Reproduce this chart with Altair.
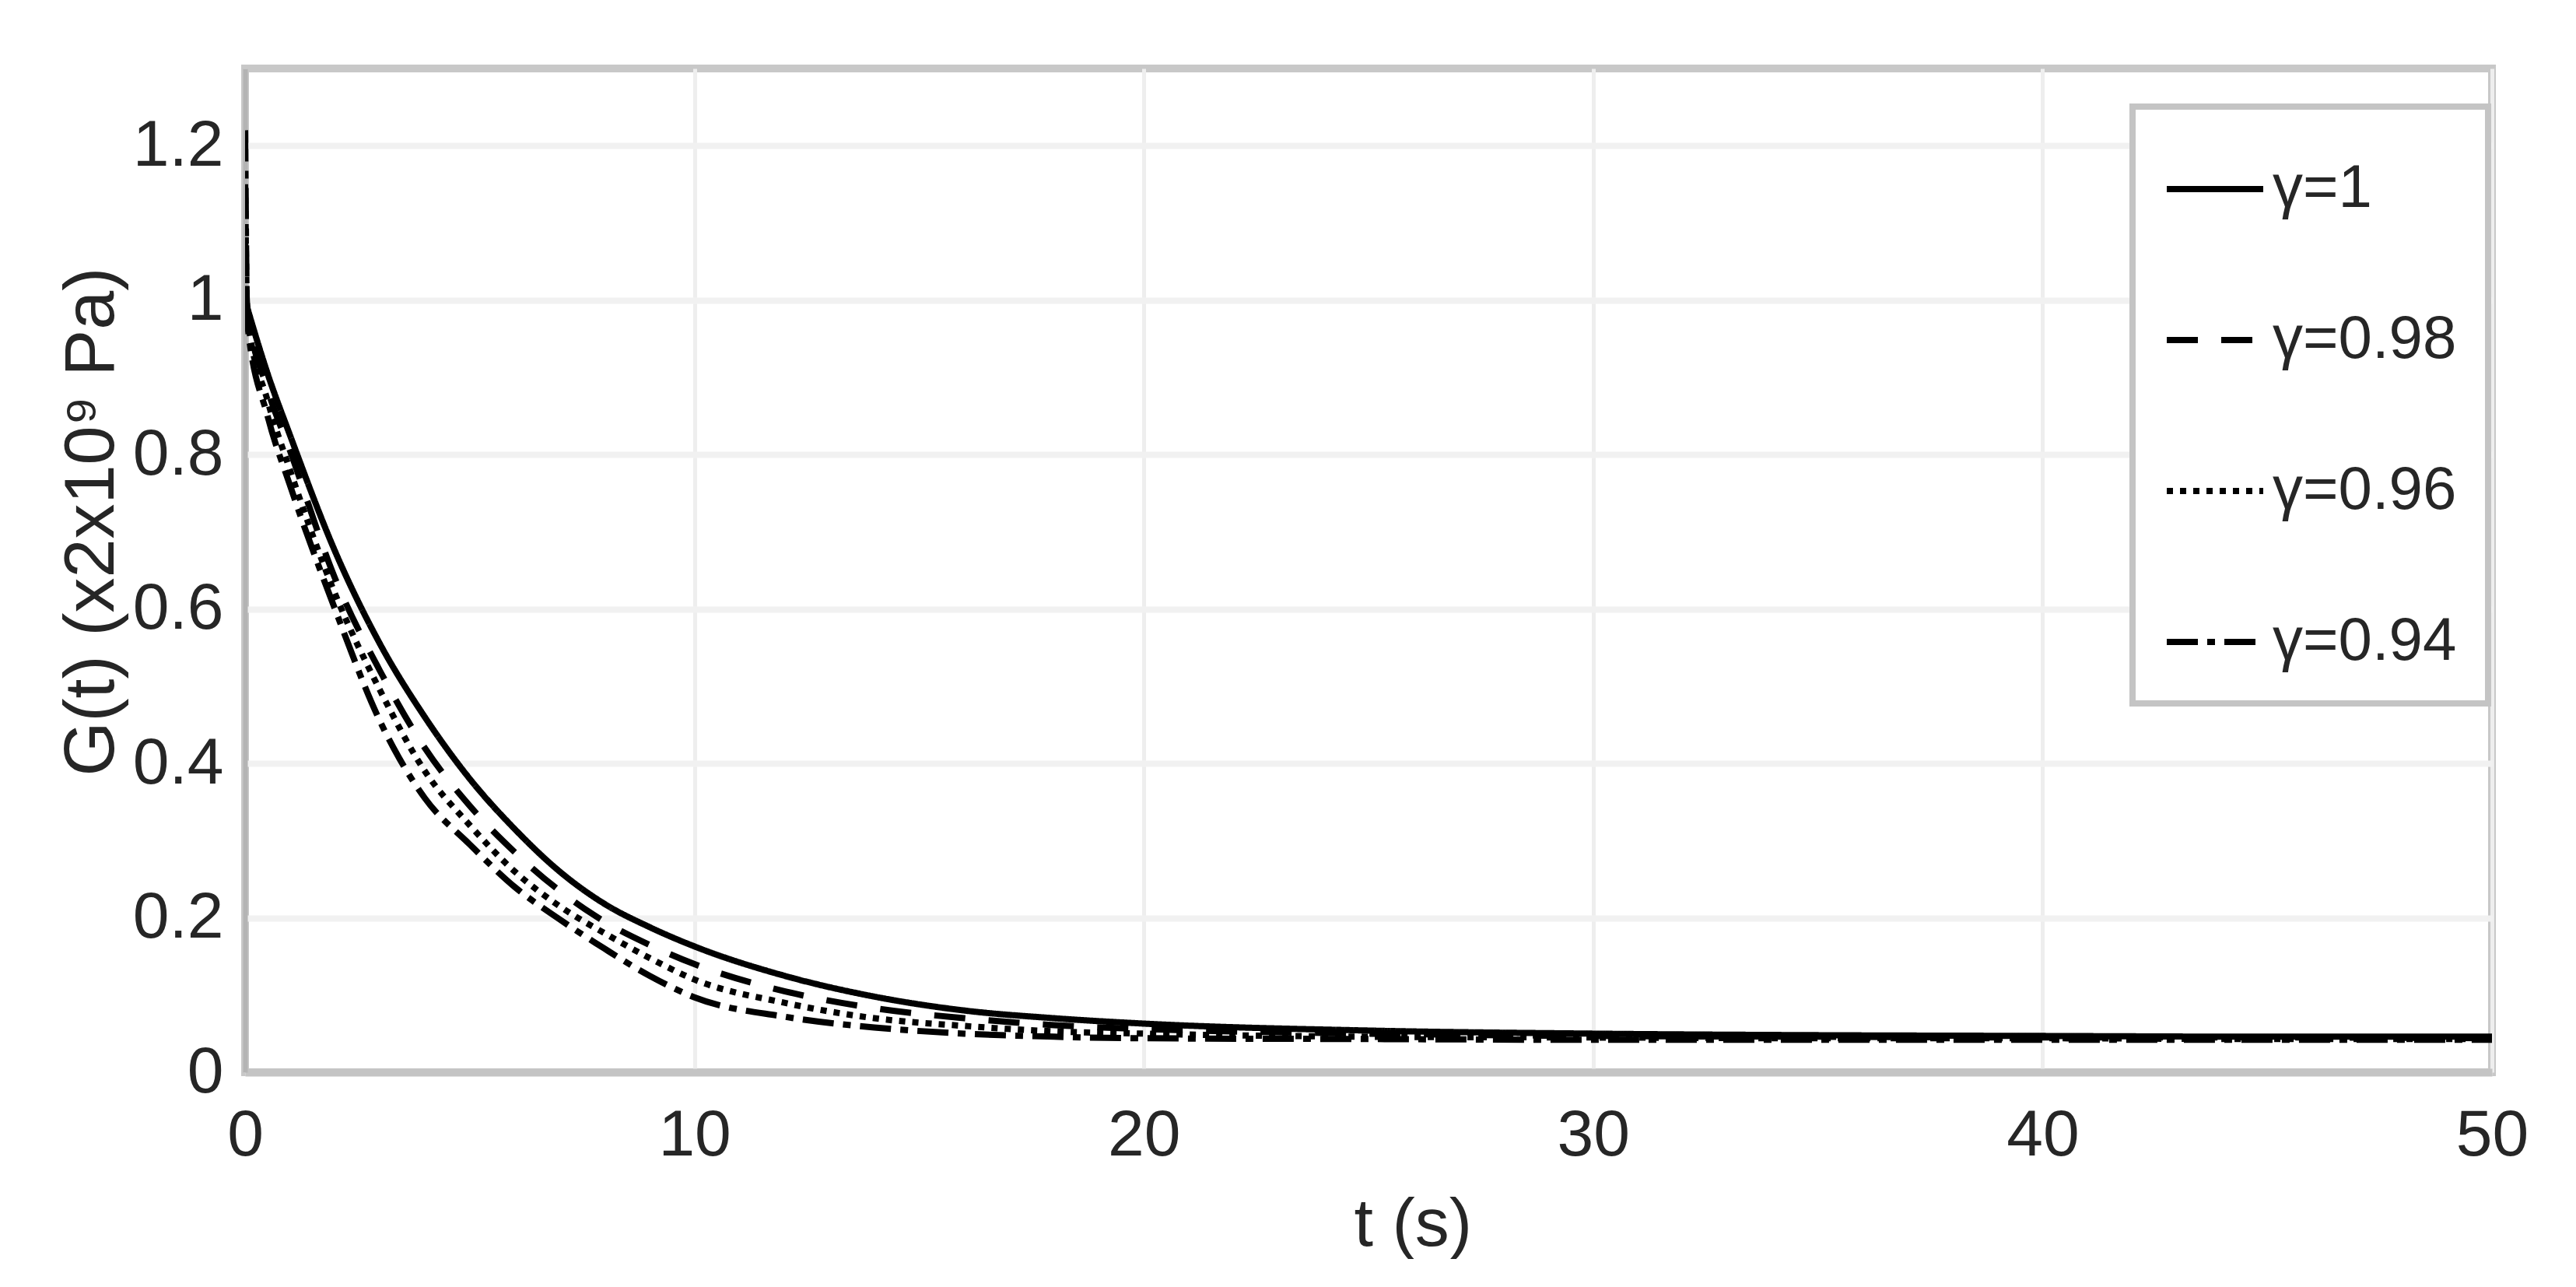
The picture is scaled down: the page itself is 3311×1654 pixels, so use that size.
import altair as alt
import pandas as pd

# ---- data ----
t_values = [0, 0.05, 0.5, 1, 2, 3, 4, 5, 6, 7, 8, 9, 10, 12, 14, 16, 18, 20, 25, 30, 35, 40, 45, 50]

g_gamma_100 = [1.00, 0.99, 0.905, 0.825, 0.675, 0.555, 0.46, 0.38, 0.315, 0.26, 0.218, 0.188, 0.163,
               0.125, 0.098, 0.080, 0.070, 0.063, 0.054, 0.050, 0.048, 0.047, 0.046, 0.046]
g_gamma_098 = [1.08, 0.99, 0.885, 0.805, 0.64, 0.52, 0.42, 0.345, 0.285, 0.235, 0.195, 0.165, 0.14,
               0.105, 0.083, 0.070, 0.061, 0.056, 0.050, 0.047, 0.046, 0.045, 0.045, 0.044]
g_gamma_096 = [1.15, 0.98, 0.87, 0.78, 0.62, 0.495, 0.39, 0.32, 0.26, 0.215, 0.18, 0.148, 0.12,
               0.090, 0.070, 0.060, 0.053, 0.050, 0.046, 0.045, 0.044, 0.044, 0.043, 0.043]
g_gamma_094 = [1.22, 0.97, 0.85, 0.76, 0.60, 0.455, 0.355, 0.295, 0.24, 0.198, 0.16, 0.125, 0.097,
               0.072, 0.058, 0.050, 0.046, 0.044, 0.043, 0.042, 0.042, 0.042, 0.042, 0.042]

series_labels = ["γ=1", "γ=0.98", "γ=0.96", "γ=0.94"]
series_values = [g_gamma_100, g_gamma_098, g_gamma_096, g_gamma_094]

x_ticks = [0, 10, 20, 30, 40, 50]
y_ticks = [0, 0.2, 0.4, 0.6, 0.8, 1.0, 1.2]

rows = []
for label, vals in zip(series_labels, series_values):
    for t, g in zip(t_values, vals):
        rows.append({"t": t, "G": g, "series": label})
df = pd.DataFrame(rows)

FONT = "Liberation Sans"
TXT = "#262626"

x_axis = alt.Axis(
    values=x_ticks, format="d", grid=True, gridColor="#eeeeee", gridWidth=5,
    ticks=False, tickSize=0, domain=True, domainColor="#c4c4c4", domainWidth=10,
    labelFont=FONT, labelFontSize=84, labelColor=TXT, labelPadding=106,
    labelBaseline="alphabetic", labelFlush=False, labelOverlap=False,
    title="t (s)", titleFont=FONT, titleFontSize=88, titleColor=TXT,
    titleFontWeight="normal", titleAlign="left", titleBaseline="alphabetic",
    titleX=1425, titleY=222,
)

y_axis = alt.Axis(
    values=y_ticks, format="~g", grid=True, gridColor="#f1f1f1", gridWidth=8,
    ticks=False, tickSize=0, domain=True, domainColor="#b4b4b4", domainWidth=6,
    labelFont=FONT, labelFontSize=84, labelColor=TXT, labelPadding=28,
    labelOverlap=False,
    title="G(t) (x2x10⁹ Pa)", titleFont=FONT, titleFontSize=90, titleColor=TXT,
    titleFontWeight="normal", titleAngle=270, titleAlign="left",
    titleBaseline="alphabetic", titleX=-170, titleY=909,
)

legend = alt.Legend(
    title=None, orient="none", legendX=2426, legendY=49, padding=40,
    fillColor="white", strokeColor="#c4c4c4",
    symbolType="stroke", symbolSize=15376, symbolStrokeWidth=8,
    symbolStrokeColor="black", labelFont=FONT, labelFontSize=78,
    labelColor=TXT, labelOffset=8, rowPadding=89, labelLimit=1000,
)

chart = (
    alt.Chart(df)
    .mark_line(strokeWidth=8, interpolate="monotone", color="black", clip=True)
    .encode(
        x=alt.X("t:Q", scale=alt.Scale(domain=[0, 50], nice=False, zero=False), axis=x_axis),
        y=alt.Y("G:Q", scale=alt.Scale(domain=[0, 1.3], nice=False), axis=y_axis),
        strokeDash=alt.StrokeDash(
            "series:N",
            scale=alt.Scale(domain=series_labels,
                            range=[[1, 0], [40, 30], [8, 9], [40, 12, 10, 12]]),
            legend=legend,
        ),
        order=alt.Order("t:Q"),
    )
    .properties(
        width=2888, height=1290,
        autosize=alt.AutoSizeParams(type="none"),
        padding={"left": 307, "top": 80, "right": 90, "bottom": 240},
        background="white",
    )
    .configure_view(stroke="#c8c8c8", strokeWidth=10)
    .configure_legend(strokeWidth=8)
)

chart.save("out.html", embed_options={"renderer": "svg", "actions": False})
